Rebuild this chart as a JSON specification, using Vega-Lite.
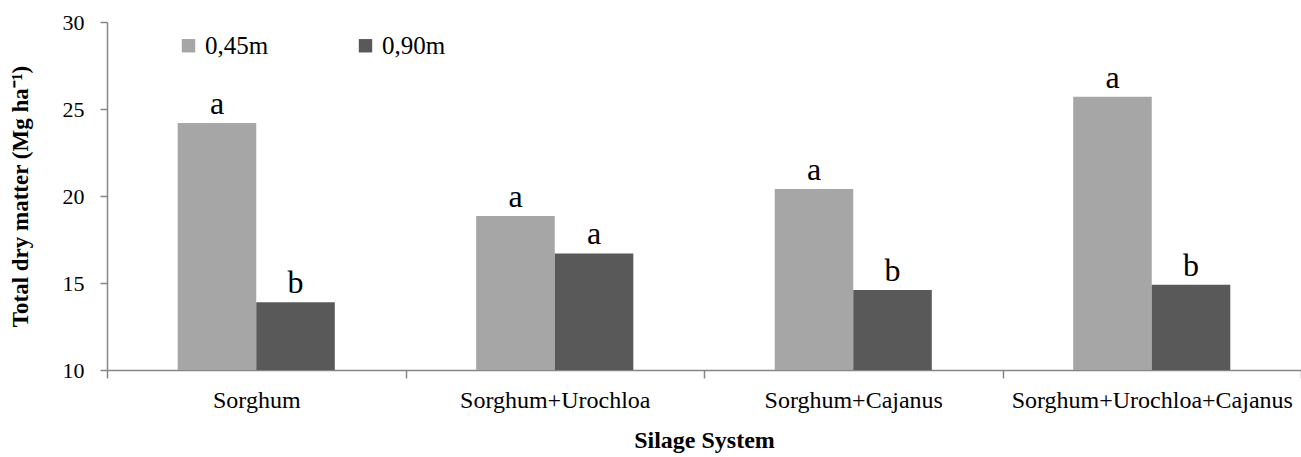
{
  "$schema": "https://vega.github.io/schema/vega-lite/v6.json",
  "width": 1194,
  "height": 348,
  "autosize": {"type": "none"},
  "padding": {"left": 107, "top": 22, "right": 0, "bottom": 87},
  "background": "white",
  "config": {"view": {"stroke": null}, "font": "Liberation Serif"},
  "data": {
    "values": [
      {"system": "Sorghum", "spacing": "0,45m", "value": 24.2, "letter": "a"},
      {"system": "Sorghum", "spacing": "0,90m", "value": 13.9, "letter": "b"},
      {"system": "Sorghum+Urochloa", "spacing": "0,45m", "value": 18.85, "letter": "a"},
      {"system": "Sorghum+Urochloa", "spacing": "0,90m", "value": 16.7, "letter": "a"},
      {"system": "Sorghum+Cajanus", "spacing": "0,45m", "value": 20.4, "letter": "a"},
      {"system": "Sorghum+Cajanus", "spacing": "0,90m", "value": 14.6, "letter": "b"},
      {"system": "Sorghum+Urochloa+Cajanus", "spacing": "0,45m", "value": 25.7, "letter": "a"},
      {"system": "Sorghum+Urochloa+Cajanus", "spacing": "0,90m", "value": 14.9, "letter": "b"}
    ]
  },
  "encoding": {
    "x": {
      "field": "system",
      "type": "nominal",
      "sort": ["Sorghum", "Sorghum+Urochloa", "Sorghum+Cajanus", "Sorghum+Urochloa+Cajanus"],
      "scale": {"paddingInner": 0, "paddingOuter": 0},
      "axis": {
        "title": "Silage System",
        "labelAngle": 0,
        "tickBand": "extent",
        "labelLimit": 0,
        "labelFont": "Liberation Serif",
        "titleFont": "Liberation Serif",
        "labelFontSize": 24,
        "titleFontSize": 24,
        "titleFontWeight": "bold",
        "labelColor": "black",
        "titleColor": "black",
        "domainColor": "#868686",
        "tickColor": "#868686",
        "domainWidth": 1.5,
        "tickWidth": 1.5,
        "tickSize": 8,
        "labelPadding": 10,
        "titlePadding": 16
      }
    },
    "xOffset": {
      "field": "spacing",
      "type": "nominal",
      "sort": ["0,45m", "0,90m"],
      "scale": {"paddingInner": 0, "paddingOuter": 0.9}
    }
  },
  "layer": [
    {
      "mark": {"type": "bar"},
      "encoding": {
        "y": {
          "field": "value",
          "type": "quantitative",
          "scale": {"domain": [10, 30], "nice": false, "zero": false},
          "axis": {
            "title": "Total dry matter (Mg ha⁻¹)",
            "values": [10, 15, 20, 25, 30],
            "grid": false,
            "labelFont": "Liberation Serif",
            "titleFont": "Liberation Serif",
            "labelFontSize": 22,
            "titleFontSize": 23,
            "titleFontWeight": "bold",
            "labelColor": "black",
            "titleColor": "black",
            "domainColor": "#868686",
            "tickColor": "#868686",
            "domainWidth": 1.5,
            "tickWidth": 1.5,
            "tickSize": 7,
            "labelPadding": 16,
            "titlePadding": 30
          }
        },
        "y2": {"datum": 10},
        "color": {
          "field": "spacing",
          "type": "nominal",
          "sort": ["0,45m", "0,90m"],
          "scale": {"domain": ["0,45m", "0,90m"], "range": ["#A6A6A6", "#595959"]},
          "legend": {
            "title": null,
            "orient": "none",
            "legendX": 69,
            "legendY": 11,
            "direction": "horizontal",
            "padding": 0,
            "symbolType": "square",
            "symbolSize": 180,
            "symbolStrokeWidth": 0,
            "labelFont": "Liberation Serif",
            "labelFontSize": 25,
            "labelColor": "black",
            "labelOffset": 4,
            "columnPadding": 84
          }
        }
      }
    },
    {
      "mark": {"type": "text", "baseline": "bottom", "dy": -2, "fontSize": 32, "font": "Liberation Serif", "color": "black"},
      "encoding": {
        "y": {"field": "value", "type": "quantitative"},
        "text": {"field": "letter"}
      }
    }
  ]
}
